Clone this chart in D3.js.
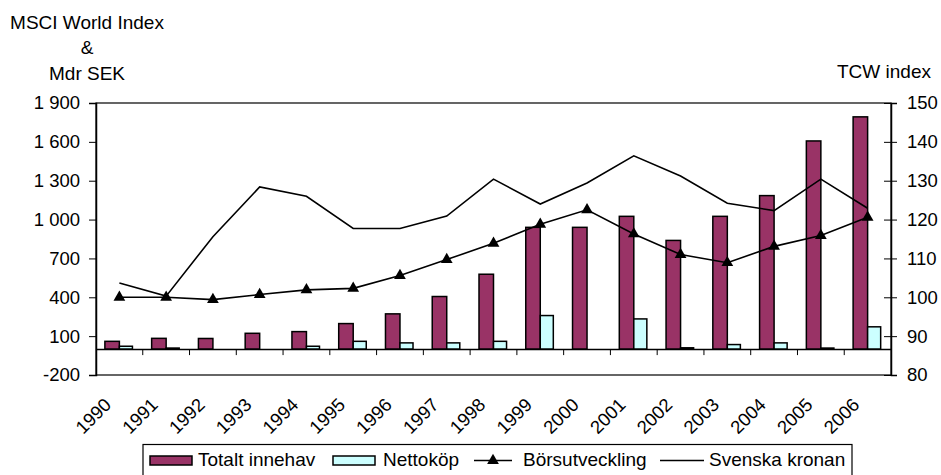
<!DOCTYPE html>
<html>
<head>
<meta charset="utf-8">
<script src="https://cdn.jsdelivr.net/npm/d3@7"></script>
<style>
  body { margin: 0; background: #fff; }
  svg { display: block; font-family: "Liberation Sans", Arial, sans-serif; }
  .tick text { font-size: 18.5px; fill: #000; }
</style>
</head>
<body>
<div id="chart"></div>
<script>
// years on the category axis
let years = ["1990", "1991", "1992", "1993", "1994", "1995", "1996", "1997", "1998",
             "1999", "2000", "2001", "2002", "2003", "2004", "2005", "2006"];

// left axis (Mdr SEK)
let totaltInnehav = [60, 83, 82, 122, 135, 197, 272, 406, 578, 940, 940, 1025, 839, 1025, 1185, 1607, 1793];
let nettokop = [22, 8, 0, 0, 22, 60, 48, 48, 60, 259, 0, 233, 10, 35, 48, 8, 172];

// right axis (index)
let borsutveckling = [100, 100, 99.4, 100.7, 101.9, 102.3, 105.6, 109.7, 113.9, 118.8, 122.5, 116.3, 111.0, 108.9, 113.1, 115.9, 120.6];
let svenskaKronan = [103.7, 100.3, 115.6, 128.4, 126.0, 117.7, 117.7, 120.9, 130.4, 124.0, 129.4, 136.4, 131.2, 124.2, 122.3, 130.4, 122.9];

let leftTicks = [-200, 100, 400, 700, 1000, 1300, 1600, 1900];
let rightTicks = [80, 90, 100, 110, 120, 130, 140, 150];

let W = 941, H = 475;
let plot = {left: 96, right: 891, top: 103, bottom: 375};

let svg = d3.select("#chart").append("svg")
    .attr("width", W)
    .attr("height", H);

let x = d3.scaleBand()
    .domain(years)
    .range([plot.left, plot.right])
    .padding(0);
let yL = d3.scaleLinear().domain([-200, 1900]).range([plot.bottom, plot.top]);
let yR = d3.scaleLinear().domain([80, 150]).range([plot.bottom, plot.top]);

let fmt = d3.formatLocale({decimal: ",", thousands: " ", grouping: [3], currency: ["", ""], minus: "-"}).format(",d");

let bw = x.bandwidth();
let barW = bw * 0.31;
function cx(i) { return x(years[i]) + bw / 2; }

// plot frame
svg.append("rect")
    .attr("x", plot.left).attr("y", plot.top)
    .attr("width", plot.right - plot.left).attr("height", plot.bottom - plot.top)
    .attr("fill", "none").attr("stroke", "#000").attr("stroke-width", 1.2);

// left axis
let axL = svg.append("g")
    .attr("transform", "translate(" + plot.left + ",0)")
    .call(d3.axisLeft(yL).tickValues(leftTicks).tickFormat(fmt).tickSize(7).tickPadding(9));
axL.select(".domain").attr("stroke-width", 1.5);

// right axis, ticks cross the line
let axR = svg.append("g")
    .attr("transform", "translate(" + plot.right + ",0)")
    .call(d3.axisRight(yR).tickValues(rightTicks).tickSize(6).tickPadding(10));
axR.selectAll(".tick line").attr("x1", -7).attr("x2", 6);
axR.select(".domain").attr("stroke-width", 1.5);

// bars
svg.selectAll(".bar-tot")
    .data(totaltInnehav)
    .enter().append("rect")
    .attr("class", "bar-tot")
    .attr("x", (d, i) => cx(i) - barW)
    .attr("width", barW)
    .attr("y", d => yL(d))
    .attr("height", d => yL(0) - yL(d))
    .attr("fill", "#993366")
    .attr("stroke", "#000").attr("stroke-width", 1.5);

svg.selectAll(".bar-net")
    .data(nettokop.map((v, i) => ({v: v, i: i})).filter(d => d.v > 0))
    .enter().append("rect")
    .attr("class", "bar-net")
    .attr("x", d => cx(d.i))
    .attr("width", barW * 0.9)
    .attr("y", d => yL(d.v))
    .attr("height", d => yL(0) - yL(d.v))
    .attr("fill", "#ccffff")
    .attr("stroke", "#000").attr("stroke-width", 1.5);

// category axis at zero
let axX = svg.append("g")
    .attr("transform", "translate(0," + yL(0) + ")")
    .call(d3.axisBottom(x).tickSize(0).tickFormat(""));
axX.select(".domain").attr("stroke-width", 1.5);
axX.selectAll(".boundary")
    .data(years.slice(1))
    .enter().append("line")
    .attr("x1", d => x(d)).attr("x2", d => x(d))
    .attr("y1", 0).attr("y2", 6)
    .attr("stroke", "#000");

// year labels
svg.selectAll(".year")
    .data(years)
    .enter().append("text")
    .attr("class", "year")
    .attr("transform", (d, i) => "translate(" + (cx(i) - 7) + "," + 406 + ") rotate(-45)")
    .attr("text-anchor", "end")
    .attr("font-size", 18.5)
    .text(d => d);

// lines
let line = d3.line().x((d, i) => cx(i)).y(d => yR(d));

svg.append("path")
    .datum(svenskaKronan)
    .attr("d", line)
    .attr("fill", "none").attr("stroke", "#000").attr("stroke-width", 1.6);

svg.append("path")
    .datum(borsutveckling)
    .attr("d", line)
    .attr("fill", "none").attr("stroke", "#000").attr("stroke-width", 1.6);

let tri = d3.symbol().type(d3.symbolTriangle).size(60);
svg.selectAll(".tri")
    .data(borsutveckling)
    .enter().append("path")
    .attr("class", "tri")
    .attr("transform", (d, i) => "translate(" + cx(i) + "," + yR(d) + ")")
    .attr("d", tri)
    .attr("fill", "#000");

// axis titles
svg.append("text").attr("x", 87).attr("y", 29).attr("text-anchor", "middle").attr("font-size", 19).text("MSCI World Index");
svg.append("text").attr("x", 87).attr("y", 54).attr("text-anchor", "middle").attr("font-size", 19).text("&");
svg.append("text").attr("x", 87).attr("y", 80).attr("text-anchor", "middle").attr("font-size", 19).text("Mdr SEK");
svg.append("text").attr("x", 884).attr("y", 78).attr("text-anchor", "middle").attr("font-size", 19).text("TCW index");

// legend
let lg = svg.append("g");
lg.append("rect")
    .attr("x", 143).attr("y", 444.5).attr("width", 709).attr("height", 40)
    .attr("fill", "#fff").attr("stroke", "#000").attr("stroke-width", 1.2);

let ly = 466;
lg.append("rect").attr("x", 150).attr("y", 456).attr("width", 42).attr("height", 9)
    .attr("fill", "#993366").attr("stroke", "#000").attr("stroke-width", 1.5);
lg.append("text").attr("x", 198).attr("y", ly).attr("font-size", 19).text("Totalt innehav");

lg.append("rect").attr("x", 333).attr("y", 456).attr("width", 42).attr("height", 9)
    .attr("fill", "#ccffff").attr("stroke", "#000").attr("stroke-width", 1.5);
lg.append("text").attr("x", 383).attr("y", ly).attr("font-size", 19).text("Nettoköp");

lg.append("line").attr("x1", 474).attr("x2", 512).attr("y1", 460.5).attr("y2", 460.5)
    .attr("stroke", "#000").attr("stroke-width", 1.6);
lg.append("path").attr("transform", "translate(493,460.5)").attr("d", tri).attr("fill", "#000");
lg.append("text").attr("x", 523).attr("y", ly).attr("font-size", 19).text("Börsutveckling");

lg.append("line").attr("x1", 660).attr("x2", 704).attr("y1", 460.5).attr("y2", 460.5)
    .attr("stroke", "#000").attr("stroke-width", 1.6);
lg.append("text").attr("x", 709).attr("y", ly).attr("font-size", 19).text("Svenska kronan");
</script>
</body>
</html>
